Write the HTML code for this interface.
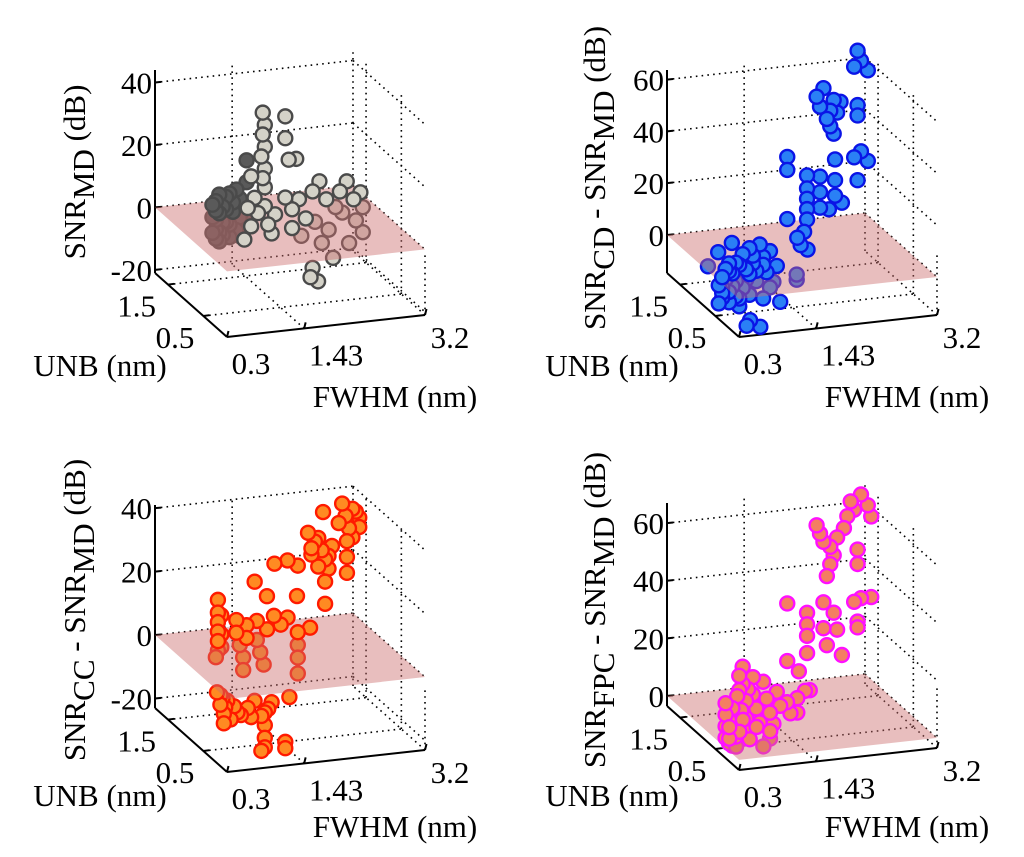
<!DOCTYPE html>
<html><head><meta charset="utf-8">
<style>
html,body{margin:0;padding:0;background:#fff;}
svg{display:block;}
text{font-family:'Liberation Serif','DejaVu Serif',serif;}
</style></head>
<body>
<svg id="fig" width="1024" height="857" viewBox="0 0 1024 857" xmlns="http://www.w3.org/2000/svg"></svg>
<script>
// ---- shared axis data ----
const fwhmTicks = [0.3, 1.43, 3.2];
const fwhmTickLabels = ["0.3", "1.43", "3.2"];
const unbTicks = [1.5, 0.5];
const unbTickLabels = ["1.5", "0.5"];
const fwhmRange = [0.3, 3.2];
const unbRange = [-0.17, 1.87];

// ---- panel 1: SNR_MD ----
const p1Fwhm = [1.0,1.0,1.0,1.0,1.0,1.05,1.05,1.1,1.1,1.1,1.15,1.2,1.2,1.25,1.25,1.3,1.3,1.35,1.4,1.4,1.45,1.45,1.2,
 0.95,0.95,0.95,1.05,1.05,1.15,1.15,1.35,1.35,1.45,
 1.17,1.2,1.17,1.2,1.15,1.2,1.17,1.2,1.5,1.5,1.55,1.66,
 1.0,1.05,1.1,1.2,1.25,1.3,1.35,1.0,0.95,0.9,
 1.5,1.7,1.9,2.1,2.3,2.5,2.6,2.0,2.4,1.6,
 2.4,2.6,2.8,3.0,3.1,2.5,2.9,2.7,3.1,2.2,
 1.9,1.87,1.98,2.2,1.6,1.8];
const p1Unb = [1.5,1.5,1.5,1.5,1.5,1.5,1.5,1.5,1.5,1.5,1.5,1.5,1.5,1.5,1.5,1.5,1.5,1.5,1.5,1.5,1.5,1.5,1.5,
 1.5,1.5,1.5,1.5,1.5,1.5,1.5,1.5,1.5,1.5,
 0.5,0.5,0.5,0.5,0.5,0.5,0.5,0.5,0.5,0.5,0.5,0.5,
 0.5,0.5,0.5,0.5,0.5,0.5,0.5,0.5,0.5,0.5,
 0.5,0.5,0.5,0.5,0.5,0.5,0.5,0.5,0.5,0.5,
 1.4,1.4,1.4,1.4,1.4,1.4,1.4,1.4,1.4,1.4,
 0.5,0.5,0.5,0.5,0.5,0.5];
const p1Val = [-8,-5,-2,1,4,-6,0,-7,-3,2,5,-8,-4,0,3,-6,7,-2,2,-5,16,9,6,
 -6,-1,3,-9,6,-3,1,4,-8,-1,
 42,38,35,31,28,24,21,18,40,33,26,26,
 22,15,10,12,6,3,9,6,12,2,
 14,13,15,12,14,11,13,18,17,10,
 -5,-8,-3,-6,-10,-12,-13,-1,-2,-9,
 -9.5,-12.4,-14,-7,4,6.6];

// ---- panel 2: SNR_CD - SNR_MD ----
const p2Fwhm = [0.4,0.4,0.4,0.45,0.5,0.5,0.55,0.6,0.6,0.65,0.7,0.7,0.75,0.8,0.8,0.85,0.9,0.95,1.0,1.0,1.05,1.1,1.1,1.2,1.25,0.5,0.55,0.7,0.45,0.6,0.8,
 0.4,0.45,0.5,0.55,0.6,0.65,0.75,0.85,0.9,1.0,1.15,0.35,0.35,0.5,0.65,0.8,
 1.5,1.55,1.65,1.6,1.75,1.75,
 2.9,2.85,3.05,2.95,
 2.3,2.35,2.4,2.5,2.55,2.6,2.65,2.9,2.9,2.5,2.55,2.45,
 2.85,2.95,3.05,2.9,
 1.87,1.87,2.16,2.16,2.16,2.16,2.16,2.35,2.35,2.35,2.57,2.57,2.57,2.67,1.87,2.48];
const p2Unb = [0.5,0.5,0.5,0.5,0.5,0.5,0.5,0.5,0.5,0.5,0.5,0.5,0.5,0.5,0.5,0.5,0.5,0.5,0.5,0.5,0.5,0.5,0.5,0.5,0.5,0.0,0.0,0.0,1.0,1.0,1.0,
 0.5,0.5,0.5,0.5,0.5,0.5,0.5,0.5,0.5,0.5,0.5,0.5,0.5,0.5,0.5,0.5,
 0.5,0.5,0.5,0.5,1.0,1.0,
 1.5,1.5,1.5,1.5,
 1.5,1.5,1.5,1.5,1.5,1.5,1.5,1.5,1.5,1.5,1.5,1.5,
 1.5,1.5,1.5,1.5,
 1.5,1.5,1.5,1.5,1.5,1.5,1.5,1.5,1.5,1.5,1.5,1.5,1.5,1.5,1.5,1.5];
const p2Val = [-8,-4,0,3,-10,-6,1,5,-2,-12,8,-5,2,10,-8,4,-3,11,6,-10,0,8,-6,2,-12,-13,-11,-14,-2,3,6,
 -6,-1,2,-4,-8,4,-2,7,1,3,-4,-3,-10,5,-9,0,
 12,9,7,14,-11,-9,
 68,62,60,64,
 52,48,55,46,50,45,49,47,43,40,37,43,
 27,29,25,18,
 30,25,22,17,13,9,5,21,15,9,27,19,13,10,6,8];

// ---- panel 3: SNR_CC - SNR_MD ----
const p3Fwhm = [2.85,2.9,3.0,3.1,3.1,2.95,3.0,2.92,2.92,2.92,
 2.35,2.45,2.55,2.6,2.7,2.5,2.65,2.4,2.57,2.6,2.6,2.05,2.2,2.5,2.8,3.05,2.4,2.65,
 1.6,1.31,1.49,1.93,
 1.03,1.03,1.03,1.03,1.03,1.03,1.0,1.08,1.08,1.08,
 1.3,1.3,1.35,1.4,1.4,1.45,1.45,
 1.6,1.65,1.7,1.75,1.6,1.85,1.95,2.05,
 2.2,2.2,2.2,2.2,2.38,
 0.55,0.55,0.6,0.65,0.7,0.6,0.5,0.58,0.62,
 0.75,0.85,0.95,1.05,1.15,1.25,1.3,0.8,1.0,
 1.2,1.2,1.2,1.2,1.15,1.5,1.5,1.56];
const p3Unb = [1.5,1.5,1.5,1.5,1.5,1.5,1.5,1.5,1.5,1.5,
 1.5,1.5,1.5,1.5,1.5,1.5,1.5,1.5,1.5,1.5,1.5,1.5,1.5,1.5,1.5,1.5,1.5,1.5,
 1.0,1.0,1.0,1.0,
 1.5,1.5,1.5,1.5,1.5,1.5,1.5,1.5,1.5,1.5,
 1.5,1.5,1.5,1.5,1.5,1.5,1.5,
 1.5,1.5,1.5,1.5,1.5,1.5,1.5,1.5,
 1.5,1.5,1.5,1.5,1.5,
 0.5,0.5,0.5,0.5,0.5,0.5,0.5,0.5,0.5,
 0.5,0.5,0.5,0.5,0.5,0.5,0.5,0.5,0.5,
 0.5,0.5,0.5,0.5,0.5,0.5,0.5,0.5];
const p3Val = [39,35,37,34,31,31,28,27,22,17,
 31,28,25,22,26,20,19,24,37,15,8,23,21,29,33,36,26,23,
 28,23,18,17,
 13,9,6,3,0,-3,-5,2,-2,8,
 6,2,-2,-6,-10,4,0,
 5,-5,-9,2,-1,6,3,5,
 0,-4,-8,-13,1,
 -6,-9,-12,-8,-14,-15,-5,-7,-10,
 -10,-13,-11,-9,-14,-12,-10,-12,-14,
 -13,-17,-21,-24,-25,-23,-25,-9];

// ---- panel 4: SNR_FPC - SNR_MD ----
const p4Fwhm = [2.75,2.85,2.95,3.05,3.1,2.8,
 2.3,2.35,2.4,2.5,2.55,2.6,2.5,2.45,2.7,2.9,2.9,
 1.87,1.87,2.16,2.16,2.16,2.16,2.4,2.4,2.45,2.55,2.6,2.85,2.95,3.1,2.9,2.9,2.67,2.04,2.13,2.2,
 0.45,0.45,0.45,0.45,0.5,0.5,0.5,0.55,0.6,0.65,0.65,0.7,0.7,0.75,0.75,0.8,0.85,0.85,0.9,0.95,1.0,1.05,1.1,1.15,1.2,1.25,1.35,1.4,1.5,0.55,0.6,0.7,1.1,1.5,
 0.4,0.4,0.5,0.55,0.6,0.7,0.8,0.9,1.0,0.62,0.68,0.78];
const p4Unb = [1.5,1.5,1.5,1.5,1.5,1.5,
 1.5,1.5,1.5,1.5,1.5,1.5,1.5,1.5,1.5,1.5,1.5,
 1.5,1.5,1.5,1.5,1.5,1.5,1.5,1.5,1.5,1.5,1.5,1.5,1.5,1.5,1.5,1.5,1.5,1.5,1.5,1.5,
 0.5,0.5,0.5,0.5,0.5,0.5,0.5,0.5,0.5,0.5,0.5,0.5,0.5,0.5,0.5,0.5,0.5,0.5,0.5,0.5,0.5,0.5,0.5,0.5,0.5,0.5,0.5,0.5,0.5,0.5,0.5,0.5,0.5,0.5,
 0.3,0.3,0.3,0.3,0.3,0.3,0.3,0.3,0.3,0.5,0.5,0.5];
const p4Val = [60,62,67,63,59,65,
 58,55,52,50,47,53,44,40,56,48,43,
 32,12,28,24,20,14,31,22,16,27,21,30,31,31,23,21,12,8,1,1,
 0,4,8,12,-2,2,6,10,0,16,21,24,18,12,6,2,20,14,9,4,18,12,7,3,14,9,10,6,11,-3,-3,-1,-2,6,
 2,6,-1,4,8,1,5,-2,3,14,9,16];

// ---- panel layout/style (not data) ----
const panels = [
 {id:"md", ox:0, oy:0, Fy:337, zmin:-21, zmax:44, zt:[40,20,0,-20], fw:p1Fwhm, un:p1Unb, v:p1Val,
  fill:"#d4d2c8", edge:"#4a4a4a", darkFill:"#5a5a5a", lab:["MD",""], lx:75, ly:172},
 {id:"cd", ox:512, oy:0, Fy:337, zmin:-14.7, zmax:63.7, zt:[60,40,20,0], fw:p2Fwhm, un:p2Unb, v:p2Val,
  fill:"#2a80f5", edge:"#0a14e6", lab:["CD","MD"], lx:595, ly:178},
 {id:"cc", ox:0, oy:430, Fy:342, zmin:-23, zmax:41, zt:[40,20,0,-20], fw:p3Fwhm, un:p3Unb, v:p3Val,
  fill:"#ff8a22", edge:"#ff1a00", lab:["CC","MD"], lx:75, ly:610},
 {id:"fpc", ox:512, oy:430, Fy:340, zmin:-3.5, zmax:67, zt:[60,40,20,0], fw:p4Fwhm, un:p4Unb, v:p4Val,
  fill:"#f47e62", edge:"#ff10ff", lab:["FPC","MD"], lx:595, ly:610}
];

const NS="http://www.w3.org/2000/svg";
const svg=document.getElementById('fig');
function mk(tag,attrs,parent){const e=document.createElementNS(NS,tag);for(const k in attrs)e.setAttribute(k,attrs[k]);(parent||svg).appendChild(e);return e;}

panels.forEach(p=>{
 const g=mk('g',{});
 
 
 const fx=f=>(f-fwhmRange[0])/(fwhmRange[1]-fwhmRange[0]);
 const ux=u=>(u-unbRange[0])/(unbRange[1]-unbRange[0]);
 const zx=z=>(z-p.zmin)/(p.zmax-p.zmin);
 const P=(fw,un,z)=>{const f=fx(fw),u=ux(un),zf=zx(z);
   return [p.ox+227+198*f-72*u, p.oy+p.Fy-22*f-64*u-203*zf];};
 const Umax=unbRange[1],Umin=unbRange[0],F0=fwhmRange[0],F1=fwhmRange[1],Z0=p.zmin,Z1=p.zmax;
 const line=(a,b,dot,name)=>{const l=mk('line',{x1:a[0],y1:a[1],x2:b[0],y2:b[1],stroke:'#000','stroke-width':dot?1.6:2,'stroke-dasharray':dot?'1.6 4.2':'none'},g);
   };
 p.zt.forEach(z=>{line(P(F0,Umax,z),P(F1,Umax,z),true,'z-gridline');line(P(F1,Umax,z),P(F1,Umin,z),true,'z-gridline');});
 fwhmTicks.slice(1).forEach(f=>{line(P(f,Umax,Z0),P(f,Umax,Z1),true,'fwhm-wall-gridline');line(P(f,Umin,Z0),P(f,Umax,Z0),true,'fwhm-floor-gridline');});
 unbTicks.forEach(u=>{line(P(F1,u,Z0),P(F1,u,Z1),true,'unb-wall-gridline');line(P(F0,u,Z0),P(F1,u,Z0),true,'unb-floor-gridline');});
 line(P(F1,Umin,Z0),P(F1,Umin,Z0+(Z1-Z0)*0.3),true,'corner-gridline');
 line(P(F0,Umax,Z0),P(F0,Umax,Z1),false,'z-axis');
 line(P(F0,Umax,Z0),P(F0,Umin,Z0),false,'unb-axis');
 line(P(F0,Umin,Z0),P(F1,Umin,Z0),false,'fwhm-axis');
 const txt=(x,y,anchor,s,name,extra)=>{const t=mk('text',Object.assign({x:x,y:y,'text-anchor':anchor,'font-size':31},extra||{}),g);
   if(s!==null)t.textContent=s;return t;};
 p.zt.forEach(z=>{const a=P(F0,Umax,z);line(a,[a[0]+6,a[1]-0.6],false,'z-tick');
   txt(a[0]-3,a[1]+11,'end',String(z),'z-tick-label');});
 fwhmTicks.forEach((f,i)=>{const a=P(f,Umin,Z0);line(a,[a[0]+1.5,a[1]-6],false,'fwhm-tick');
   txt(a[0]+(i==0?24:i==1?32:25),a[1]+37-(i==2?4:0),'middle',fwhmTickLabels[i],'fwhm-tick-label');});
 unbTicks.forEach((u,i)=>{const a=P(F0,u,Z0);line(a,[a[0]+6,a[1]-0.8],false,'unb-tick');
   txt(a[0]-(i==0?12:9),a[1]+32,'end',unbTickLabels[i],'unb-tick-label');});
 txt(p.ox+100,p.oy+376,'middle','UNB (nm)','unb-axis-title');
 txt(p.ox+395,p.oy+407,'middle','FWHM (nm)','fwhm-axis-title');
 const t=txt(0,0,'middle',null,'z-axis-title',{transform:`translate(${p.lx+10},${p.ly}) rotate(-90)`});
 const ts=(s,dy)=>{const e=mk('tspan',{dy:dy},t);e.textContent=s;};
 if(p.lab[1]===""){ts('SNR',0);ts('MD',9);ts(' (dB)',-9);}
 else{ts('SNR',0);ts(p.lab[0],9);ts(' - SNR',-9);ts(p.lab[1],9);ts(' (dB)',-9);}
 const idx=p.v.map((_,i)=>i).sort((a,b)=>(p.un[b]-p.un[a])||(p.fw[b]-p.fw[a]));
 const drawPts=cond=>idx.filter(i=>cond(p.v[i])).forEach(i=>{
   const c=P(p.fw[i],p.un[i],p.v[i]);
   const dark=p.darkFill&&p.un[i]>=1.5;
   const pt=mk('circle',{cx:c[0],cy:c[1],r:7,fill:dark?p.darkFill:p.fill,stroke:p.edge,'stroke-width':2.4},g);
   
   
 });
 drawPts(v=>v<0);
 const q=[P(F0,Umax,0),P(F1,Umax,0),P(F1,Umin,0),P(F0,Umin,0)];
 const pl=mk('polygon',{points:q.map(a=>a.join(',')).join(' '),fill:'rgb(205,110,110)','fill-opacity':0.45},g);
 
 
 drawPts(v=>v>=0);
});
</script>
</body></html>
